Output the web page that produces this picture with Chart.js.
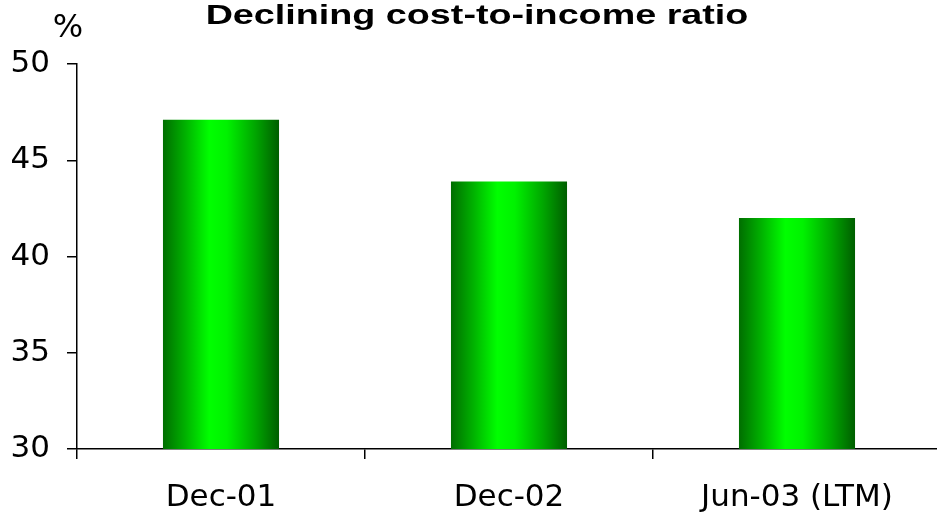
<!DOCTYPE html>
<html>
<head>
<meta charset="utf-8">
<script src="https://cdn.jsdelivr.net/npm/chart.js@4"></script>
<style>
  html, body { margin: 0; padding: 0; background: #fff; overflow: hidden; }
  #wrap { width: 937px; height: 513px; overflow: hidden; }
</style>
</head>
<body>
<div id="wrap"><canvas id="ratioChart" width="941" height="513"></canvas></div>
<script>
"use strict";

// values
const categories = ["Dec-01", "Dec-02", "Jun-03 (LTM)"];
const ratioValues = [47.1, 43.9, 42.0];
const yTicks = [30, 35, 40, 45, 50];

const chartTitle = "Declining cost-to-income ratio";
const unitLabel = "%";

const barPct = 0.403;

// green bar, dark at the edges and bright in the middle
function barGradient(context) {
  const chart = context.chart;
  const area = chart.chartArea;
  if (!area || !chart.scales.x) return "#00cc00";
  const x = chart.scales.x.getPixelForValue(context.dataIndex);
  const w = (area.right - area.left) / categories.length * barPct;
  const g = chart.ctx.createLinearGradient(x - w / 2, 0, x + w / 2, 0);
  g.addColorStop(0, "#006e00");
  g.addColorStop(0.2, "#00b400");
  g.addColorStop(0.4, "#00ff00");
  g.addColorStop(0.55, "#00f200");
  g.addColorStop(0.8, "#00a400");
  g.addColorStop(1, "#005e00");
  return g;
}

// title is wide (stretched) bold text, so draw it ourselves
const titlePlugin = {
  id: "stretchedTitle",
  afterDraw(chart) {
    const ctx = chart.ctx;
    ctx.save();
    ctx.fillStyle = "#000";
    ctx.textAlign = "center";
    ctx.textBaseline = "alphabetic";
    ctx.font = "bold 28px 'Liberation Sans', Arial, sans-serif";
    ctx.translate(477, 24);
    ctx.scale(1.347, 1);
    ctx.fillText(chartTitle, 0, 0);
    ctx.restore();

    ctx.save();
    ctx.fillStyle = "#000";
    ctx.textAlign = "center";
    ctx.font = "32px 'DejaVu Sans', Verdana, sans-serif";
    ctx.fillText(unitLabel, 68, 37);
    ctx.restore();
  }
};

const tickFont = { family: "'DejaVu Sans', Verdana, sans-serif", size: 31 };

const ratioConfig = {
  type: "bar",
  data: {
    labels: categories,
    datasets: [{
      data: ratioValues,
      backgroundColor: barGradient,
      borderWidth: 0,
      barPercentage: barPct,
      categoryPercentage: 1.0
    }]
  },
  options: {
    responsive: false,
    animation: false,
    layout: { padding: { top: 64, left: 0, right: 0, bottom: 0 } },
    plugins: {
      legend: { display: false },
      tooltip: { enabled: false },
      title: { display: false }
    },
    scales: {
      x: {
        afterFit(axis) { axis.height = 64; },
        grid: {
          offset: true,
          drawOnChartArea: false,
          color: "#000",
          lineWidth: 1.5,
          tickLength: 10
        },
        border: { color: "#000", width: 1.5 },
        ticks: { color: "#000", font: tickFont, padding: 20, maxRotation: 0 }
      },
      y: {
        min: 30,
        max: 50,
        afterBuildTicks(axis) {
          axis.ticks = yTicks.map(v => ({ value: v }));
        },
        afterFit(axis) { axis.width = 77; },
        grid: {
          drawOnChartArea: false,
          color: "#000",
          lineWidth: 1.5,
          tickLength: 10
        },
        border: { color: "#000", width: 1.5 },
        ticks: { color: "#000", font: tickFont, padding: 17 }
      }
    }
  },
  plugins: [titlePlugin]
};

const ratioChart = new Chart("ratioChart", ratioConfig);
</script>
</body>
</html>
